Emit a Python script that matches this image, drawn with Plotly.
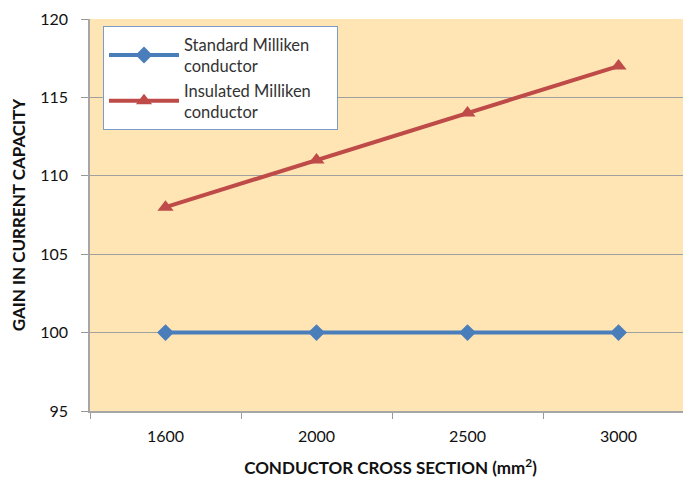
import plotly.graph_objects as go

categories = ["1600", "2000", "2500", "3000"]
standard_vals = [100, 100, 100, 100]
insulated_vals = [108, 111, 114, 117]
y_ticks = [95, 100, 105, 110, 115, 120]
series_names = ["Standard Milliken<br>conductor",
                "Insulated Milliken&nbsp;&nbsp;&nbsp;&nbsp;&nbsp;<br>conductor"]

FONT = "Lato, 'Open Sans', sans-serif"

fig = go.Figure()
fig.add_trace(go.Scatter(
    x=categories, y=standard_vals, mode="lines+markers",
    name=series_names[0],
    line=dict(color="#4A7EBB", width=4),
    marker=dict(symbol="diamond", size=13, color="#4A7EBB"),
))
fig.add_trace(go.Scatter(
    x=categories, y=insulated_vals, mode="lines+markers",
    name=series_names[1],
    line=dict(color="#BE4B48", width=4),
    marker=dict(symbol="triangle-up", size=14, color="#BE4B48"),
))

# page body has an 8px margin: size the figure so the plot area lands
# where the reference has it and the figure ends at the window edge
fig.update_layout(
    width=683, height=473,
    margin=dict(l=82, r=0, t=11, b=70),
    paper_bgcolor="white",
    plot_bgcolor="#FFE4B4",
    font=dict(family=FONT, size=15, color="#111111"),
    showlegend=True,
    legend=dict(
        x=(103 - 90) / 601, y=(411 - 26) / 392, xanchor="left", yanchor="top",
        bgcolor="white", bordercolor="#7C9CC8", borderwidth=1,
        font=dict(family=FONT, size=16.5, color="#333333"),
        tracegroupgap=0, itemwidth=70,
    ),
    xaxis=dict(
        type="category", range=[-0.5, 3.48],
        tickson="boundaries", ticks="outside", ticklen=6, tickcolor="#999999",
        ticklabelstandoff=10,
        showgrid=False, showline=True, linecolor="#A6A6A6", linewidth=1.5,
        tickfont=dict(family=FONT, size=16, color="#111111"),
        title=dict(text="<b>CONDUCTOR CROSS SECTION (mm<sup>2</sup>)</b>",
                   font=dict(family=FONT, size=17, color="#111111"), standoff=18),
        zeroline=False,
    ),
    yaxis=dict(
        range=[95, 120], tickvals=y_ticks,
        ticks="outside", ticklen=7, tickcolor="#999999",
        ticklabelstandoff=10,
        showgrid=True, gridcolor="#A0A0A0", gridwidth=1,
        showline=True, linecolor="#A6A6A6", linewidth=1.5,
        tickfont=dict(family=FONT, size=16, color="#111111"),
        title=dict(text="<b>GAIN IN CURRENT CAPACITY</b>",
                   font=dict(family=FONT, size=17, color="#111111"), standoff=12),
        zeroline=False,
    ),
)

fig.write_html("out.html")
